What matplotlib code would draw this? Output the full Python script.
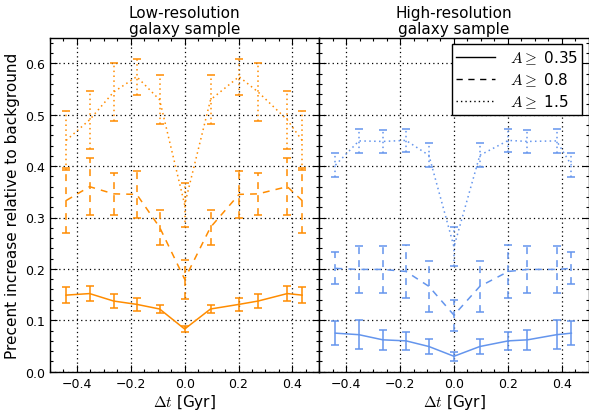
import matplotlib
matplotlib.use("Agg")
import matplotlib.pyplot as plt
from matplotlib.ticker import MultipleLocator

plt.rcParams['mathtext.fontset'] = 'cm'
plt.rcParams['font.family'] = ['DejaVu Sans']

# ---- data ----
dt = [-0.44, -0.353, -0.264, -0.178, -0.093, 0.0, 0.096, 0.202, 0.273, 0.381, 0.436]

low_a035 = [0.149, 0.152, 0.1375, 0.131, 0.122, 0.083, 0.122, 0.131, 0.1375, 0.152, 0.149]
low_a035_err = [0.015, 0.015, 0.014, 0.013, 0.008, 0.006, 0.008, 0.013, 0.014, 0.015, 0.015]
low_a08 = [0.333, 0.360, 0.346, 0.345, 0.281, 0.180, 0.281, 0.345, 0.346, 0.360, 0.333]
low_a08_err = [0.063, 0.056, 0.041, 0.045, 0.034, 0.038, 0.034, 0.045, 0.041, 0.056, 0.063]
low_a15 = [0.450, 0.490, 0.544, 0.574, 0.529, 0.325, 0.529, 0.574, 0.544, 0.490, 0.450]
low_a15_err = [0.057, 0.057, 0.057, 0.035, 0.048, 0.043, 0.048, 0.035, 0.057, 0.057, 0.057]

high_a035 = [0.075, 0.072, 0.062, 0.060, 0.049, 0.030, 0.049, 0.060, 0.062, 0.072, 0.075]
high_a035_err = [0.024, 0.028, 0.020, 0.018, 0.015, 0.009, 0.015, 0.018, 0.020, 0.028, 0.024]
high_a08 = [0.201, 0.199, 0.199, 0.195, 0.166, 0.110, 0.166, 0.195, 0.199, 0.199, 0.201]
high_a08_err = [0.031, 0.046, 0.045, 0.051, 0.050, 0.030, 0.050, 0.051, 0.045, 0.046, 0.031]
high_a15 = [0.402, 0.449, 0.448, 0.450, 0.421, 0.243, 0.421, 0.450, 0.448, 0.449, 0.402]
high_a15_err = [0.023, 0.023, 0.023, 0.023, 0.023, 0.038, 0.023, 0.023, 0.023, 0.023, 0.023]

labels = [r"$A \geq$ 0.35", r"$A \geq$ 0.8", r"$A \geq$ 1.5"]
titles = ["Low-resolution\ngalaxy sample", "High-resolution\ngalaxy sample"]

ORANGE = "#ff8c00"
BLUE = "#6495ed"

styles = [None, (4.5, 4), (1, 2.2)]

fig = plt.figure(figsize=(5.89, 4.14), dpi=100)
ax1 = fig.add_axes([50/589, 1 - 372.7/414, 269.3/589, (372.7 - 38.6)/414])
ax2 = fig.add_axes([319.3/589, 1 - 372.7/414, 269.3/589, (372.7 - 38.6)/414], sharey=ax1)

def draw(ax, series, color):
    for (y, e), d in zip(series, styles):
        cont = ax.errorbar(dt, y, yerr=e, color=color, lw=1.1, capsize=3, capthick=1.1,
                           elinewidth=1.1)
        line = cont[0]
        bars = cont[2][0]
        if d is not None:
            line.set_dashes(d)
            bars.set_linestyle((0, d))

draw(ax1, [(low_a035, low_a035_err), (low_a08, low_a08_err), (low_a15, low_a15_err)], ORANGE)
draw(ax2, [(high_a035, high_a035_err), (high_a08, high_a08_err), (high_a15, high_a15_err)], BLUE)

handles = []
for d, lab in zip(styles, labels):
    h, = ax2.plot([], [], color='black', lw=1.0, label=lab)
    if d is not None:
        h.set_dashes(d)
    handles.append(h)
leg = ax2.legend(handles=handles, loc='upper right', fontsize=11, frameon=True,
                 fancybox=False, edgecolor='black', framealpha=1, handlelength=2.5,
                 borderaxespad=0.4, handletextpad=1.0, labelspacing=0.3, borderpad=0.3)
leg.get_frame().set_linewidth(1.0)

for ax, t in zip([ax1, ax2], titles):
    ax.set_xlim(-0.5, 0.5)
    ax.set_ylim(0, 0.65)
    ax.xaxis.set_major_locator(MultipleLocator(0.2))
    ax.xaxis.set_minor_locator(MultipleLocator(0.05))
    ax.yaxis.set_major_locator(MultipleLocator(0.1))
    ax.yaxis.set_minor_locator(MultipleLocator(0.02))
    ax.tick_params(which='both', direction='in', top=True, right=True, labelsize=9)
    ax.tick_params(which='major', length=5, width=0.8)
    ax.tick_params(which='minor', length=2.5, width=0.8)
    ax.grid(True, which='major', color='black', ls=(0, (1, 2.5)), lw=0.9)
    ax.set_xlabel(r"$\Delta t$ [Gyr]", fontsize=11, labelpad=2)
    ax.set_title(t, fontsize=11, pad=3, linespacing=1.15)
    for s in ax.spines.values():
        s.set_linewidth(1.0)

ax2.tick_params(labelleft=False)
ax1.set_ylabel("Precent increase relative to background", fontsize=11, labelpad=4)

fig.savefig("out.png", dpi=100)
